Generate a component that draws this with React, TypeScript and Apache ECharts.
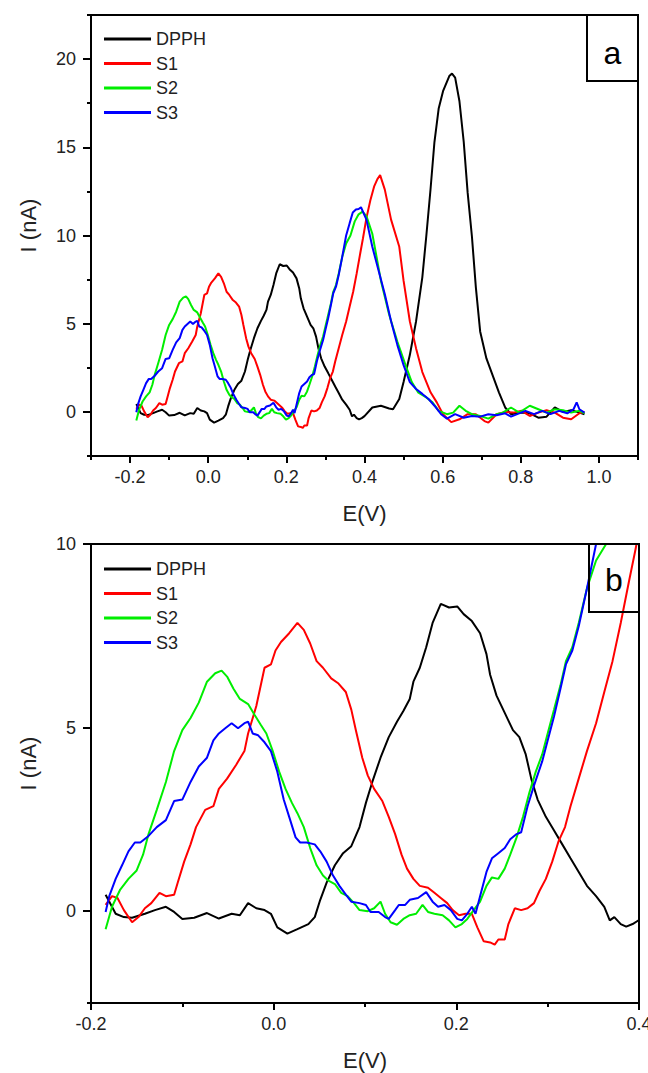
import React, { useEffect, useRef } from "react";
import * as echarts from "echarts";

const seriesNames = ["DPPH", "S1", "S2", "S3"];
const seriesColors = ["#000000", "#ff0000", "#00ee00", "#0000ff"];

// [E (V), I (nA)]
const dpph: number[][] = [
  [-0.184, 0.45], [-0.173, -0.07], [-0.164, -0.16], [-0.155, -0.18], [-0.141, -0.07], [-0.13, 0.03],
  [-0.118, 0.12], [-0.109, -0.02], [-0.1, -0.21], [-0.087, -0.18], [-0.073, -0.05], [-0.06, -0.2],
  [-0.046, -0.07], [-0.037, -0.11], [-0.028, 0.22], [-0.019, 0.08], [-0.01, 0.03], [-0.003, -0.07],
  [0.004, -0.44], [0.015, -0.61], [0.026, -0.49], [0.038, -0.35], [0.045, -0.16], [0.051, 0.31],
  [0.058, 0.78], [0.067, 1.25], [0.076, 1.58], [0.085, 1.77], [0.094, 2.29], [0.101, 2.95],
  [0.108, 3.52], [0.117, 4.18], [0.126, 4.74], [0.135, 5.16], [0.142, 5.45], [0.149, 5.78],
  [0.153, 6.25], [0.16, 6.63], [0.167, 7.19], [0.174, 7.85], [0.183, 8.37], [0.192, 8.27],
  [0.201, 8.3], [0.208, 8.09], [0.217, 7.9], [0.226, 7.57], [0.233, 7.0], [0.237, 6.44],
  [0.244, 5.87], [0.253, 5.4], [0.262, 4.93], [0.269, 4.74], [0.276, 4.27], [0.282, 3.61],
  [0.289, 3.04], [0.298, 2.57], [0.307, 2.2], [0.316, 1.82], [0.325, 1.44], [0.334, 1.07],
  [0.343, 0.69], [0.353, 0.41], [0.362, 0.12], [0.368, -0.25], [0.373, -0.16], [0.38, -0.35],
  [0.386, -0.42], [0.393, -0.35], [0.4, -0.24], [0.42, 0.25], [0.442, 0.35], [0.463, 0.19],
  [0.473, 0.15], [0.489, 0.73], [0.5, 1.69], [0.516, 3.22], [0.532, 5.14], [0.548, 7.63],
  [0.558, 9.93], [0.569, 12.62], [0.579, 15.3], [0.59, 17.22], [0.601, 18.18], [0.617, 19.04],
  [0.624, 19.18], [0.632, 18.95], [0.643, 17.61], [0.654, 15.3], [0.664, 12.43], [0.675, 9.93],
  [0.685, 7.06], [0.696, 4.56], [0.712, 3.03], [0.728, 2.07], [0.744, 1.11], [0.76, 0.25],
  [0.775, -0.13], [0.802, -0.04], [0.823, -0.08], [0.845, -0.33], [0.866, -0.27], [0.887, 0.25],
  [0.908, 0.0], [0.929, 0.1], [0.95, -0.04], [0.963, -0.13],
];

const s1: number[][] = [
  [-0.184, 0.17], [-0.177, 0.41], [-0.171, 0.36], [-0.164, 0.03], [-0.155, -0.3], [-0.148, -0.16],
  [-0.141, 0.08], [-0.134, 0.22], [-0.125, 0.5], [-0.118, 0.41], [-0.109, 0.45], [-0.105, 0.78],
  [-0.098, 1.35], [-0.091, 1.82], [-0.085, 2.29], [-0.075, 2.76], [-0.066, 2.86], [-0.06, 3.33],
  [-0.051, 3.61], [-0.041, 3.99], [-0.032, 4.36], [-0.028, 4.84], [-0.019, 5.59], [-0.01, 6.63],
  [-0.003, 6.72], [0.002, 7.1], [0.008, 7.33], [0.017, 7.57], [0.026, 7.85], [0.033, 7.66],
  [0.04, 7.29], [0.047, 6.81], [0.054, 6.63], [0.063, 6.34], [0.071, 6.2], [0.079, 5.97],
  [0.085, 5.49], [0.09, 4.93], [0.097, 4.18], [0.103, 3.7], [0.11, 3.33], [0.119, 3.0],
  [0.126, 2.57], [0.133, 2.1], [0.14, 1.54], [0.146, 1.16], [0.153, 0.88], [0.16, 0.69],
  [0.169, 0.64], [0.176, 0.5], [0.183, 0.36], [0.19, 0.22], [0.196, 0.03], [0.203, -0.11],
  [0.21, -0.07], [0.217, -0.07], [0.223, -0.44], [0.23, -0.82], [0.237, -0.85], [0.242, -0.91],
  [0.246, -0.77], [0.253, -0.77], [0.257, -0.35], [0.264, 0.08], [0.271, 0.03], [0.278, 0.08],
  [0.285, 0.22], [0.291, 0.55], [0.298, 0.88], [0.305, 1.35], [0.312, 1.91], [0.319, 2.29],
  [0.325, 2.86], [0.334, 3.61], [0.343, 4.36], [0.353, 5.12], [0.362, 5.97], [0.371, 6.81],
  [0.38, 7.85], [0.389, 8.98], [0.396, 9.83], [0.405, 11.0], [0.415, 12.0], [0.425, 12.8],
  [0.433, 13.2], [0.44, 13.42], [0.452, 12.6], [0.468, 10.9], [0.489, 9.36], [0.5, 7.44],
  [0.516, 5.14], [0.532, 3.6], [0.548, 2.26], [0.569, 1.11], [0.585, 0.54], [0.601, -0.13],
  [0.622, -0.58], [0.643, -0.42], [0.664, -0.13], [0.685, -0.13], [0.707, -0.52], [0.717, -0.61],
  [0.738, -0.13], [0.76, 0.0], [0.781, -0.04], [0.802, 0.06], [0.823, -0.23], [0.845, -0.04],
  [0.866, 0.1], [0.887, -0.04], [0.908, -0.33], [0.929, -0.42], [0.95, -0.08], [0.963, 0.0],
];

const s2: number[][] = [
  [-0.184, -0.49], [-0.177, 0.12], [-0.168, 0.59], [-0.159, 0.88], [-0.15, 1.11], [-0.143, 1.54],
  [-0.137, 2.1], [-0.128, 2.76], [-0.118, 3.52], [-0.109, 4.36], [-0.1, 4.93], [-0.091, 5.26],
  [-0.082, 5.68], [-0.073, 6.25], [-0.064, 6.48], [-0.057, 6.55], [-0.051, 6.39], [-0.044, 6.06],
  [-0.037, 5.78], [-0.028, 5.64], [-0.021, 5.35], [-0.014, 5.07], [-0.008, 4.84], [-0.001, 4.36],
  [0.006, 3.8], [0.013, 3.33], [0.02, 2.95], [0.026, 2.67], [0.033, 2.29], [0.04, 1.72],
  [0.047, 1.25], [0.054, 0.97], [0.06, 0.83], [0.067, 0.74], [0.074, 0.5], [0.081, 0.41],
  [0.088, 0.22], [0.094, 0.03], [0.103, 0.0], [0.11, 0.08], [0.117, 0.26], [0.122, -0.07],
  [0.128, -0.3], [0.135, -0.37], [0.142, -0.21], [0.149, -0.11], [0.156, -0.07], [0.163, 0.17],
  [0.169, -0.02], [0.176, -0.07], [0.185, -0.11], [0.192, -0.25], [0.199, -0.44], [0.206, -0.35],
  [0.212, -0.21], [0.219, 0.03], [0.226, 0.26], [0.233, 0.69], [0.239, 0.92], [0.246, 0.88],
  [0.253, 1.16], [0.259, 1.54], [0.266, 2.01], [0.273, 2.57], [0.28, 3.23], [0.287, 3.8],
  [0.294, 4.27], [0.3, 4.84], [0.307, 5.49], [0.314, 6.15], [0.32, 6.81], [0.327, 7.19],
  [0.334, 7.85], [0.343, 8.79], [0.353, 9.55], [0.364, 10.0], [0.375, 10.8], [0.385, 11.2],
  [0.395, 11.35], [0.405, 11.1], [0.42, 10.1], [0.442, 7.44], [0.463, 5.52], [0.484, 3.99],
  [0.505, 2.65], [0.521, 1.69], [0.537, 1.11], [0.558, 0.82], [0.574, 0.54], [0.59, 0.06],
  [0.611, -0.13], [0.627, -0.04], [0.643, 0.35], [0.659, 0.06], [0.675, -0.13], [0.696, -0.23],
  [0.717, -0.38], [0.738, -0.13], [0.754, -0.04], [0.775, 0.25], [0.796, -0.04], [0.823, 0.35],
  [0.845, 0.15], [0.866, -0.04], [0.887, 0.15], [0.908, 0.1], [0.929, -0.04], [0.95, 0.06],
  [0.963, -0.08],
];

const s3: number[][] = [
  [-0.184, -0.02], [-0.18, 0.41], [-0.173, 0.88], [-0.166, 1.25], [-0.159, 1.63], [-0.152, 1.87],
  [-0.146, 1.87], [-0.137, 2.05], [-0.128, 2.29], [-0.118, 2.48], [-0.109, 3.0], [-0.1, 3.04],
  [-0.091, 3.52], [-0.082, 3.94], [-0.073, 4.18], [-0.066, 4.65], [-0.06, 4.84], [-0.053, 4.98],
  [-0.046, 5.12], [-0.039, 4.98], [-0.032, 5.12], [-0.028, 5.16], [-0.023, 4.84], [-0.017, 4.79],
  [-0.01, 4.6], [-0.003, 4.36], [0.004, 3.8], [0.011, 3.04], [0.017, 2.57], [0.024, 2.01],
  [0.029, 1.87], [0.036, 1.87], [0.045, 1.82], [0.051, 1.63], [0.058, 1.35], [0.065, 0.97],
  [0.072, 0.69], [0.079, 0.45], [0.085, 0.26], [0.094, 0.22], [0.101, 0.17], [0.106, -0.02],
  [0.115, -0.02], [0.122, -0.16], [0.126, -0.21], [0.133, 0.03], [0.137, 0.17], [0.144, 0.17],
  [0.149, 0.31], [0.158, 0.36], [0.167, 0.52], [0.174, 0.26], [0.18, 0.12], [0.187, 0.17],
  [0.194, 0.03], [0.201, -0.21], [0.206, -0.25], [0.212, -0.07], [0.217, 0.12], [0.221, -0.07],
  [0.226, 0.41], [0.233, 1.07], [0.239, 1.44], [0.246, 1.58], [0.253, 1.72], [0.259, 1.96],
  [0.266, 2.1], [0.271, 2.15], [0.278, 2.86], [0.285, 3.42], [0.294, 4.08], [0.3, 4.65],
  [0.307, 5.31], [0.314, 6.06], [0.32, 6.72], [0.327, 7.1], [0.334, 7.76], [0.343, 8.79],
  [0.353, 10.0], [0.362, 10.7], [0.37, 11.3], [0.378, 11.47], [0.385, 11.5], [0.391, 11.6],
  [0.405, 10.9], [0.42, 9.36], [0.436, 8.02], [0.452, 6.67], [0.468, 5.14], [0.484, 3.8],
  [0.5, 2.65], [0.516, 1.69], [0.532, 1.3], [0.548, 1.02], [0.564, 0.73], [0.579, 0.35],
  [0.596, -0.13], [0.611, -0.38], [0.632, -0.13], [0.654, -0.33], [0.675, -0.23], [0.696, -0.27],
  [0.717, -0.13], [0.738, -0.19], [0.76, -0.08], [0.775, -0.27], [0.791, -0.13], [0.812, 0.06],
  [0.834, -0.13], [0.855, 0.06], [0.876, -0.13], [0.898, 0.06], [0.919, -0.08], [0.935, 0.15],
  [0.943, 0.54], [0.95, 0.15], [0.963, -0.04],
];

const allSeries = [dpph, s1, s2, s3];

const topXMajor = [-0.2, 0, 0.2, 0.4, 0.6, 0.8, 1.0];
const topXMinor = [-0.3, -0.1, 0.1, 0.3, 0.5, 0.7, 0.9, 1.1];
const topYMajor = [0, 5, 10, 15, 20];
const topYMinor = [-2.5, 2.5, 7.5, 12.5, 17.5, 22.5];
const botXMajor = [-0.2, 0, 0.2, 0.4];
const botXMinor = [-0.1, 0.1, 0.3];
const botYMajor = [0, 5, 10];
const botYMinor = [-2.5];

const FONT = '"Liberation Sans", Arial, sans-serif';
const TXT = "#222222";

function xAxes(gridIndex: number, min: number, max: number, major: number[], minor: number[]) {
  return [
    {
      type: "value", gridIndex, min, max, position: "bottom",
      axisLine: { show: true, onZero: false, lineStyle: { color: "#000", width: 2 } },
      axisTick: { show: true, customValues: major, length: 7, lineStyle: { color: "#000", width: 2 } },
      axisLabel: {
        customValues: major, margin: 12, fontSize: 18, color: TXT, fontFamily: FONT,
        formatter: (v: number) => Number(v).toFixed(1),
      },
      splitLine: { show: false },
      name: "E(V)", nameLocation: "middle", nameGap: 46,
      nameTextStyle: { fontSize: 22, color: TXT, fontFamily: FONT },
    },
    {
      type: "value", gridIndex, min, max, position: "bottom",
      axisLine: { show: false, onZero: false },
      axisTick: { show: true, customValues: minor, length: 4, lineStyle: { color: "#000", width: 2 } },
      axisLabel: { show: false },
      splitLine: { show: false },
    },
  ];
}

function yAxes(gridIndex: number, min: number, max: number, major: number[], minor: number[]) {
  return [
    {
      type: "value", gridIndex, min, max, position: "left",
      axisLine: { show: true, onZero: false, lineStyle: { color: "#000", width: 2 } },
      axisTick: { show: true, customValues: major, length: 8, lineStyle: { color: "#000", width: 2 } },
      axisLabel: {
        customValues: major, margin: 15, fontSize: 18, color: TXT, fontFamily: FONT,
        formatter: (v: number) => String(Math.round(v)),
      },
      splitLine: { show: false },
      name: "I (nA)", nameLocation: "middle", nameGap: 52, nameRotate: 90,
      nameTextStyle: { fontSize: 22, color: TXT, fontFamily: FONT, padding: [0, 0, 0, 20] },
    },
    {
      type: "value", gridIndex, min, max, position: "left",
      axisLine: { show: false, onZero: false },
      axisTick: { show: true, customValues: minor, length: 4, lineStyle: { color: "#000", width: 2 } },
      axisLabel: { show: false },
      splitLine: { show: false },
    },
  ];
}

function legendFor(top: number) {
  return {
    orient: "vertical", left: 104, top, padding: 0,
    icon: "rect",
    itemWidth: 47, itemHeight: 3, itemGap: 6.5,
    selectedMode: false,
    data: seriesNames,
    textStyle: { fontSize: 18, color: TXT, fontFamily: FONT, lineHeight: 18 },
  };
}

export default function App() {
  const ref = useRef<HTMLDivElement>(null);
  useEffect(() => {
    if (!ref.current) return;
    const chart = echarts.init(ref.current, null, { renderer: "svg" });
    const series: any[] = [];
    [0, 1].forEach((g) => {
      allSeries.forEach((d, i) => {
        series.push({
          type: "line", name: seriesNames[i], data: d,
          xAxisIndex: g * 2, yAxisIndex: g * 2,
          symbol: "none", showSymbol: false, clip: true,
          lineStyle: { color: seriesColors[i], width: 2 },
          itemStyle: { color: seriesColors[i] },
        });
      });
    });
    chart.setOption({
      animation: false,
      backgroundColor: "#ffffff",
      grid: [
        { left: 91, top: 15, width: 547, height: 441, show: true, borderColor: "#000", borderWidth: 2, outerBoundsMode: "none", containLabel: false },
        { left: 91, top: 544, width: 548, height: 459, show: true, borderColor: "#000", borderWidth: 2, outerBoundsMode: "none", containLabel: false },
      ],
      xAxis: [...xAxes(0, -0.3, 1.1, topXMajor, topXMinor), ...xAxes(1, -0.2, 0.4, botXMajor, botXMinor)],
      yAxis: [...yAxes(0, -2.5, 22.5, topYMajor, topYMinor), ...yAxes(1, -2.5, 10, botYMajor, botYMinor)],
      legend: [legendFor(30), legendFor(560)],
      series,
      graphic: [
        { type: "rect", shape: { x: 587, y: 15, width: 51, height: 66 }, style: { fill: "none", stroke: "#000", lineWidth: 2 }, z: 100 },
        { type: "text", x: 612.5, y: 53, style: { text: "a", fontSize: 32, fontFamily: FONT, fill: "#000", align: "center", verticalAlign: "middle" }, z: 100 },
        { type: "rect", shape: { x: 589, y: 544, width: 50, height: 68 }, style: { fill: "none", stroke: "#000", lineWidth: 2 }, z: 100 },
        { type: "text", x: 614, y: 580, style: { text: "b", fontSize: 32, fontFamily: FONT, fill: "#000", align: "center", verticalAlign: "middle" }, z: 100 },
      ],
    });
    return () => chart.dispose();
  }, []);
  return <div ref={ref} style={{ position: "absolute", left: 0, top: 0, width: 648, height: 1073 }} />;
}
